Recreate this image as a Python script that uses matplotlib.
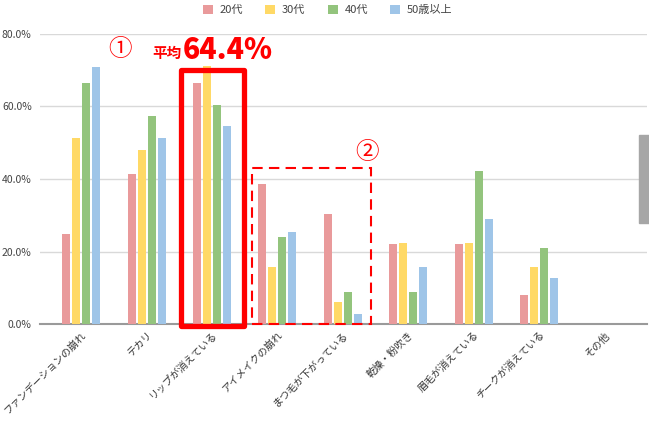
import matplotlib
matplotlib.use("Agg")
import matplotlib.pyplot as plt
from matplotlib.patches import Rectangle
import numpy as np

plt.rcParams['font.family'] = ['Noto Sans CJK JP', 'DejaVu Sans']

categories = ["ファンデーションの崩れ", "テカリ", "リップが消えている", "アイメイクの崩れ",
              "まつ毛が下がっている", "乾燥・粉吹き", "眉毛が消えている", "チークが消えている", "その他"]
series_names = ["20代", "30代", "40代", "50歳以上"]
v20 = [24.8, 41.4, 66.5, 38.6, 30.3, 22.0, 22.0, 8.0, 0.0]
v30 = [51.3, 48.0, 71.2, 15.7, 6.1, 22.3, 22.3, 15.7, 0.0]
v40 = [66.5, 57.4, 60.4, 24.0, 8.8, 8.8, 42.2, 21.0, 0.0]
v50 = [70.8, 51.3, 54.6, 25.4, 2.8, 15.7, 29.0, 12.7, 0.0]
yticks = [0, 20, 40, 60, 80]
colors = ["#E99A9B", "#FFD966", "#93C47D", "#9FC5E8"]

fig = plt.figure(figsize=(6.49, 4.23), dpi=100)
ax = fig.add_axes([40 / 649, (423 - 324) / 423, (647 - 40) / 649, (324 - 34) / 423])

x = np.arange(len(categories))
step = 0.153
w = 0.122
for i, (vals, c, name) in enumerate(zip([v20, v30, v40, v50], colors, series_names)):
    ax.bar(x + (i - 1.5) * step, vals, width=w, color=c, label=name, zorder=3)

ax.set_xlim(-0.63, 8.65)
ax.set_ylim(0, 80)
ax.set_yticks(yticks)
ax.set_yticklabels([f"{t:.1f}%" for t in yticks], fontsize=7.5, color="#444444")
ax.yaxis.grid(True, color="#d9d9d9", linewidth=1, zorder=0)
ax.set_axisbelow(True)
for s in ["top", "right", "left"]:
    ax.spines[s].set_visible(False)
ax.spines["bottom"].set_color("#9a9a9a")
ax.spines["bottom"].set_linewidth(1.5)
ax.tick_params(axis="y", length=0, pad=6)
ax.tick_params(axis="x", length=0, pad=4)
ax.set_xticks(x)
ax.set_xticklabels(categories, rotation=45, ha="right", rotation_mode="anchor",
                   fontsize=7.3, color="#333333")

# annotations
ax.add_patch(Rectangle((1.53, -0.5), 0.96, 70.6, fill=False, edgecolor="#FF0000",
                       linewidth=3.8, clip_on=False, zorder=5, joinstyle="round"))
ax.add_patch(Rectangle((2.61, 0), 1.82, 43.0, fill=False, edgecolor="#FF0000",
                       linewidth=1.5, linestyle=(0, (5, 3)), clip_on=False, zorder=5))
ax.text(0.6, 75.6, "①", color="#FF0000", fontsize=17, ha="center", va="center")
ax.text(1.08, 74.8, "平均", color="#FF0000", fontsize=10.5, fontweight="bold",
        ha="left", va="center")
ax.text(1.56, 75.6, "64.4%", color="#FF0000", fontsize=20.5, fontweight="heavy",
        ha="left", va="center")
ax.text(4.37, 47.4, "②", color="#FF0000", fontsize=17, ha="center", va="center")

fig.legend(loc="upper center", bbox_to_anchor=(0.505, 1.012), ncol=4, frameon=False,
           fontsize=8, handlelength=0.9, handleheight=0.9, columnspacing=2.0,
           handletextpad=0.6, labelcolor="#444444")

fig.add_artist(Rectangle((639 / 649, (423 - 223) / 423), 10 / 649, 88 / 423,
                         transform=fig.transFigure, color="#a6a6a6", zorder=6))

fig.savefig("out.png", dpi=100)
